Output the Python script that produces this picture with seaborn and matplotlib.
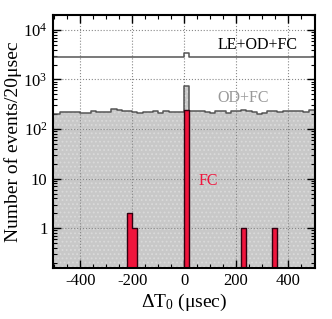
import numpy as np
import pandas as pd
import seaborn as sb
import matplotlib
matplotlib.use("Agg")
import matplotlib.pyplot as plt
from matplotlib.ticker import MultipleLocator, LogLocator, FixedLocator, NullFormatter

# 20 usec bins from -500 to +500
edges = list(range(-500, 501, 20))
centers = [e + 10 for e in edges[:-1]]

# OD+FC counts per bin
od_fc = [204, 217, 224, 224, 220, 210, 212, 232, 224, 221,
         221, 249, 240, 230, 226, 220, 215, 224, 224, 232,
         215, 230, 224, 224, 218, 725, 232, 232, 228, 224,
         214, 226, 226, 212, 232, 230, 245, 226, 218, 204,
         206, 226, 226, 224, 232, 232, 226, 226, 224, 245]

# LE+OD+FC counts per bin
le_od_fc = [2850, 2800, 2780, 2790, 2800, 2790, 2800, 2820, 2800, 2810,
            2830, 2800, 2790, 2820, 2850, 2840, 2860, 2810, 2800, 2830,
            2830, 2800, 2810, 2810, 2800, 3350, 2900, 2880, 2880, 2860,
            2860, 2850, 2830, 2830, 2800, 2790, 2780, 2800, 2810, 2820,
            2850, 2880, 2870, 2850, 2850, 2830, 2780, 2780, 2820, 2850]

# FC counts (only non-empty bins)
fc_centers = [-210, -190, 10, 230, 350]
fc_counts = [2, 1, 240, 1, 1]

plt.rcParams['font.family'] = ['Liberation Serif', 'DejaVu Serif']
plt.rcParams['mathtext.fontset'] = 'custom'
plt.rcParams['mathtext.rm'] = 'Liberation Serif'
plt.rcParams['mathtext.it'] = 'Liberation Serif:italic'
plt.rcParams['axes.unicode_minus'] = False
plt.rcParams['hatch.linewidth'] = 0.8

fig = plt.figure(figsize=(3.32, 3.19), dpi=100)
ax = fig.add_axes([0.160, 0.161, 0.789, 0.792])

df = pd.DataFrame({"t": centers, "od": od_fc, "le": le_od_fc})
fc = pd.DataFrame({"t": fc_centers, "n": fc_counts})

# grey filled OD+FC
sb.histplot(data=df, x="t", weights="od", bins=edges, element="step", fill=True,
            color="#c8c8c8", alpha=1, linewidth=0, ax=ax, zorder=2)
for p in ax.collections:
    p.set_hatch("....")
    p.set_edgecolor("#dadada")
    p.set_linewidth(0)
# outline of OD+FC
sb.histplot(data=df, x="t", weights="od", bins=edges, element="step", fill=False,
            color="#555555", linewidth=1.1, ax=ax, zorder=3)
# LE+OD+FC outline
sb.histplot(data=df, x="t", weights="le", bins=edges, element="step", fill=False,
            color="#555555", linewidth=1.1, ax=ax, zorder=3)
# FC red histogram
sb.histplot(data=fc, x="t", weights="n", bins=edges, element="step", fill=True,
            color="#f0143c", alpha=1, linewidth=0, ax=ax, zorder=4)
sb.histplot(data=fc, x="t", weights="n", bins=edges, element="step", fill=False,
            color="#300010", linewidth=1.0, ax=ax, zorder=4.5)

ax.set_yscale("log")
ax.set_xlim(-505, 505)
ax.set_ylim(0.16, 2e4)

ax.xaxis.set_major_locator(FixedLocator([-400, -200, 0, 200, 400]))
ax.xaxis.set_minor_locator(MultipleLocator(50))
ax.yaxis.set_minor_locator(LogLocator(base=10, subs=np.arange(2, 10), numticks=20))
ax.yaxis.set_minor_formatter(NullFormatter())
ytick = [1, 10, 100, 1000, 10000]
ax.set_yticks(ytick)
ax.set_yticklabels(["1", "10", r"$10^2$", r"$10^3$", r"$10^4$"])

ax.tick_params(which="both", direction="in", top=True, right=True, labelsize=12, pad=4)
ax.tick_params(which="major", length=6, width=1)
ax.tick_params(which="minor", length=3, width=0.8)
for s in ax.spines.values():
    s.set_linewidth(1.5)
    s.set_zorder(6)

ax.grid(True, which="major", linestyle=":", color="#888888", linewidth=0.8)
ax.set_axisbelow(False)
for gl in ax.get_xgridlines() + ax.get_ygridlines():
    gl.set_zorder(2.5)

ax.set_xlabel("ΔT$_0$ (μsec)", fontsize=14, labelpad=2)
ax.set_ylabel("Number of events/20μsec", fontsize=14, labelpad=1)

ax.text(128, 4900, "LE+OD+FC", fontsize=11.5, color="black", ha="left", va="center", zorder=7)
ax.text(128, 417, "OD+FC", fontsize=11.5, color="#999999", ha="left", va="center", zorder=7)
ax.text(55, 9, "FC", fontsize=11.5, color="#f0143c", ha="left", va="center", zorder=7)

plt.savefig("out.png", dpi=100)
